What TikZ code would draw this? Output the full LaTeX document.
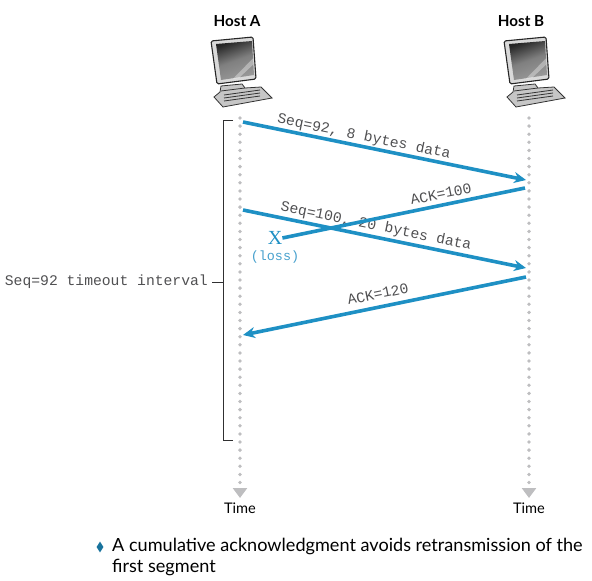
\documentclass[tikz,border=0pt]{standalone}
\usepackage{fontspec}
\setmainfont{Lato}
\newfontfamily\monofont{Liberation Mono}
\newfontfamily\serifont{Liberation Serif}
\usetikzlibrary{arrows.meta, calc, shapes.geometric}
\definecolor{segBlue}{RGB}{30,144,196}
\definecolor{lossBlue}{RGB}{70,160,205}
\definecolor{dotGray}{RGB}{190,190,192}
\definecolor{inkGray}{RGB}{80,80,82}
\tikzset{
	segment/.style={line width=3.6pt, segBlue, -{Stealth[length=12pt, width=11pt]}},
	lifeline/.style={line width=3.8pt, dotGray, line cap=round, dash pattern=on 0pt off 8.1pt, -{Triangle[length=10pt, width=14pt]}},
	seglabel/.style={inner sep=0pt, text=inkGray, font=\monofont\fontsize{14.7}{16}\selectfont},
	hostlabel/.style={inner sep=0pt, font=\bfseries\fontsize{15.2}{17}\selectfont},
	timelabel/.style={inner sep=0pt, font=\fontsize{14.6}{16}\selectfont},
	pics/host/.style={code={
		\filldraw[black!80, fill=gray!45, line width=0.8pt] (-16,97) -- (-10,92) -- (-9,86) -- (12,84) -- (15,88) -- (31,87) -- (42,98) -- (-7,107) -- cycle;
		\draw[black!80, line width=0.8pt] (-9,91) -- (15,88);
		\foreach \rowy in {94,97,100}
			\draw[black!80, line width=0.8pt] (-6,\rowy+1) -- (30,\rowy-4);
		\filldraw[black!85, fill=gray!30, line width=1.1pt, rounded corners=1.5pt] (-19,41) -- (23,37) -- (26,79) -- (-13,84) -- cycle;
		\shade[left color=black!85, right color=black!40, middle color=black!50, shading angle=20] (-14,44) -- (22,41) -- (24,75) -- (-9,80) -- cycle;
		\fill[white, opacity=0.35] (23.3,58) -- (23.7,64) -- (9,78) -- (3,78.8) -- cycle;
	}}
}
\begin{document}
\begin{tikzpicture}[x=1pt, y=-1pt]
	\useasboundingbox (0,0) rectangle (592,581);
	\coordinate (hostA) at (230,0);
	\coordinate (hostB) at (523,0);
	\node[hostlabel] (nameA) at (237,21) {Host A};
	\node[hostlabel] (nameB) at (521,21) {Host B};
	\pic at (hostA) {host};
	\pic at (hostB) {host};
	% time lines
	\coordinate (topA) at (240,118);
	\coordinate (topB) at (529,118);
	\node[timelabel] (timeA) at (240,508) {Time};
	\node[timelabel] (timeB) at (529,508) {Time};
	\draw[lifeline] (topA) -- (240,498);
	\draw[lifeline] (topB) -- (529,498);
	% timeout bracket
	\node[seglabel, anchor=east] (timeout) at (208,282) {Seq=92 timeout interval};
	\draw[inkGray!60!black, line width=0.9pt] (233,120) -| (223,440) -- (233,440);
	\draw[inkGray!60!black, line width=0.9pt] (timeout.east) ++(4,0) -- (223,282);
	% labels sit under the arrows
	\node[seglabel, rotate=-11.6] (seqA) at (364,137) {Seq=92, 8 bytes data};
	\node[seglabel, rotate=-11.6] (seqB) at (376,226.5) {Seq=100, 20 bytes data};
	\node[seglabel, rotate=11.6] (ackA) at (441,194) {ACK=100};
	\node[seglabel, rotate=11.6] (ackB) at (378,294) {ACK=120};
	\node[inner sep=0pt, text=segBlue, font=\serifont\fontsize{20}{22}\selectfont] (lost) at (275,238) {X};
	\node[inner sep=0pt, text=lossBlue, font=\monofont\fontsize{13.4}{15}\selectfont] (lossnote) at (275,257) {(loss)};
	% segments
	\coordinate (s1) at (243,122);
	\coordinate (r1) at (526,180);
	\coordinate (s2) at (525,188);
	\coordinate (s3) at (243,210);
	\coordinate (r3) at (526,268);
	\coordinate (s4) at (526,277);
	\coordinate (r4) at (243,335);
	\draw[segment] (s1) -- (r1);
	\draw[segment, -] (s2) -- (lost.east);
	\draw[segment] (s3) -- (r3);
	\draw[segment] (s4) -- (r4);
	% caption
	\node[inner sep=0pt, diamond, fill=segBlue!80!black, minimum width=7pt, minimum height=11pt] (bullet) at (100,547) {};
	\node[inner sep=0pt, anchor=north west, align=left, font=\fontsize{18.1}{21}\selectfont] (caption) at (112,538) {A cumulative acknowledgment avoids retransmission of the\\first segment};
\end{tikzpicture}
\end{document}
